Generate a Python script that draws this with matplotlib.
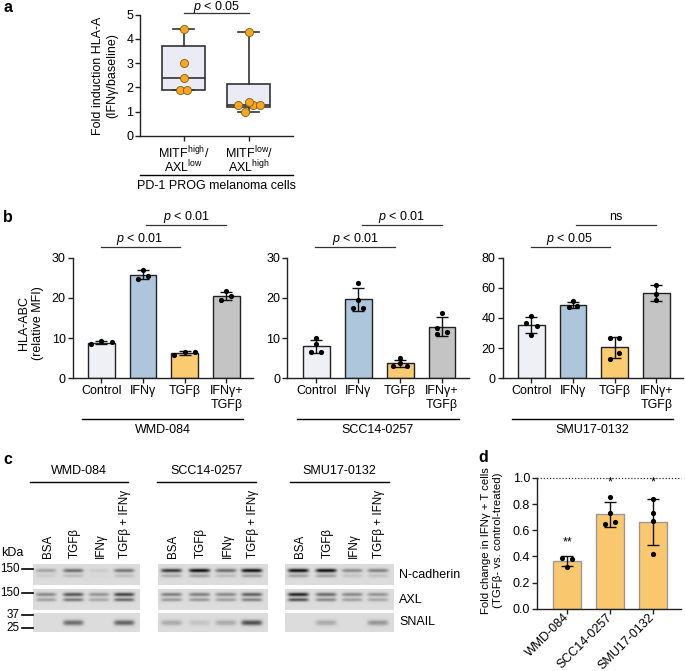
import numpy as np
import matplotlib.pyplot as plt

plt.rcParams['font.family'] = ['Liberation Sans', 'DejaVu Sans']
plt.rcParams['font.size'] = 9.0
plt.rcParams['mathtext.fontset'] = 'custom'
plt.rcParams['mathtext.rm'] = 'Liberation Sans'
plt.rcParams['mathtext.it'] = 'Liberation Sans:italic'
plt.rcParams['axes.linewidth'] = 1.0
plt.rcParams['axes.edgecolor'] = '#222222'

# panel a: fold induction of HLA-A after IFNg
a_labels = [r'MITF$^{\mathrm{high}}$/' + '\n' + r'AXL$^{\mathrm{low}}$',
            r'MITF$^{\mathrm{low}}$/' + '\n' + r'AXL$^{\mathrm{high}}$']
a_high = [1.9, 1.9, 2.4, 3.0, 4.4]
a_low = [1.0, 1.28, 1.28, 1.28, 1.4, 4.3]
a_jitter = [[-0.056, 0.056, 0, 0, 0], [-0.05, -0.17, 0.067, 0.174, 0, 0]]

# panel b: HLA-ABC relative MFI per cell line
b_conditions = ['Control', 'IFNγ', 'TGFβ', 'IFNγ+\nTGFβ']
b_lines = ['WMD-084', 'SCC14-0257', 'SMU17-0132']
wmd_hla = [[8.45, 9.2, 8.95], [24.8, 27.0, 25.5], [5.7, 6.6, 6.5], [19.5, 21.6, 20.5]]
scc_hla = [[6.65, 10.0, 8.5, 6.65], [17.6, 23.8, 19.6, 17.6], [3.0, 5.0, 3.9, 3.0],
           [16.2, 12.6, 11.5, 11.1]]
smu_hla = [[41.5, 36.5, 34.8, 29.0], [51.0, 47.3, 47.8], [26.5, 26.5, 16.5, 13.0],
           [61.9, 56.1, 51.7]]
wmd_jit = [[-0.26, 0, 0.26], [-0.13, 0, 0.13], [-0.26, 0, 0.26], [-0.125, 0, 0.125]]
scc_jit = [[-0.115, 0, 0, 0.115], [-0.12, 0, 0, 0.12], [-0.17, 0, 0, 0.17], [0, -0.115, 0.115, -0.115]]
smu_jit = [[0, -0.14, 0.14, 0], [0, -0.1, 0.1], [-0.11, 0.11, 0.11, -0.11], [0, 0, 0]]
b_ymax = [30, 30, 80]
b_yticks = [[0, 10, 20, 30], [0, 10, 20, 30], [0, 20, 40, 60, 80]]
b_pvals = [('$p$ < 0.01', '$p$ < 0.01'), ('$p$ < 0.01', '$p$ < 0.01'), ('$p$ < 0.05', 'ns')]
b_colors = ['#eff0f6', '#adc6dc', '#fbcb72', '#c4c4c4']

# panel c: western blot band intensities (0 = none, 1 = strongest), lanes BSA, TGFb, IFNg, TGFb+IFNg
c_lanes = ['BSA', 'TGFβ', 'IFNγ', 'TGFβ + IFNγ']
c_proteins = ['N-cadherin', 'AXL', 'SNAIL']
ncad_bands = [[0.28, 0.55, 0.08, 0.5], [0.8, 1.0, 0.55, 1.0], [1.0, 1.0, 0.4, 0.45]]
axl_bands = [[0.4, 0.65, 0.35, 0.75], [0.45, 0.45, 0.4, 0.6], [0.9, 0.55, 0.4, 0.35]]
snail_bands = [[0.0, 0.55, 0.0, 0.6], [0.25, 0.12, 0.25, 0.7], [0.0, 0.25, 0.0, 0.35]]
c_markers = ['150', '150', '37', '25']

# panel d: fold change in IFNg+ T cells
d_lines = ['WMD-084', 'SCC14-0257', 'SMU17-0132']
d_fold = [[0.39, 0.38, 0.32], [0.855, 0.73, 0.648, 0.66], [0.84, 0.73, 0.67, 0.42]]
d_jit = [[-0.115, 0.115, 0], [0, 0, -0.12, 0.12], [0, 0, 0, 0]]
d_stars = ['**', '*', '*']
d_star_y = [0.46, 0.92, 0.92]

W, H = 685, 671
fig = plt.figure(figsize=(W / 100, H / 100), dpi=100)


def px_axes(x0, y0, x1, y1):
    return fig.add_axes([x0 / W, 1 - y1 / H, (x1 - x0) / W, (y1 - y0) / H])


def style(ax):
    ax.spines[['top', 'right']].set_visible(False)
    ax.tick_params(length=3.5, width=1.0, pad=1.5, color='#222222')


# ---- a
ax = px_axes(140.3, 14.7, 292.7, 136)
style(ax)
stats = []
for vals in (a_high, a_low):
    v = np.array(vals)
    stats.append(dict(med=np.median(v), q1=np.percentile(v, 25, method='weibull'),
                      q3=np.percentile(v, 75, method='weibull'),
                      whislo=v.min(), whishi=v.max(), fliers=[]))
lp = dict(color='#333333', lw=1.2)
ax.bxp(stats, positions=[1, 2], widths=0.66, capwidths=0.33, patch_artist=True,
       showfliers=False, boxprops=dict(facecolor='#ebebf5', edgecolor='#333333', lw=1.2),
       medianprops=lp, whiskerprops=lp, capprops=lp)
for pos, vals, jit in zip([1, 2], [a_high, a_low], a_jitter):
    ax.scatter(pos + np.array(jit), vals, s=34, color='#f6a623', edgecolor='#80600f',
               lw=0.6, zorder=3, clip_on=False)
ax.set_xlim(0.332, 2.677)
ax.set_ylim(0, 5)
ax.set_yticks(range(6))
ax.set_xticks([1, 2], a_labels)
for t in ax.get_xticklabels():
    t.set_linespacing(0.8)
ax.tick_params(axis='x', pad=3)
ax.plot([1, 2], [5.06, 5.06], color='#333333', lw=0.9, clip_on=False)
ax.text(1.5, 5.19, '$p$ < 0.05', ha='center', va='baseline')
ax.plot([0, 1], [-0.32, -0.32], color='black', lw=1.0, transform=ax.transAxes, clip_on=False)
ax.text(0.5, -0.41, 'PD-1 PROG melanoma cells', ha='center', va='center', transform=ax.transAxes)
ax.text(-0.232, 0.5, 'Fold induction HLA-A\n(IFNγ/baseline)', rotation=90, ha='center',
        va='center', transform=ax.transAxes)

# ---- b
b_data = [wmd_hla, scc_hla, smu_hla]
b_jits = [wmd_jit, scc_jit, smu_jit]
b_boxes = [(72.7, 253.3), (287.3, 469.3), (502.7, 683.3)]
for i, (x0, x1) in enumerate(b_boxes):
    ax = px_axes(x0, 257.7, x1, 378.3)
    style(ax)
    data = b_data[i]
    x = np.arange(len(b_conditions))
    means = [np.mean(v) for v in data]
    sds = [np.std(v, ddof=1) for v in data]
    ax.bar(x, means, width=0.64, color=b_colors, edgecolor='#222222', lw=1.0, zorder=1)
    ax.errorbar(x, means, yerr=sds, fmt='none', ecolor='#111111', elinewidth=1.0,
                capsize=4, capthick=1.0, zorder=2)
    for xi, vals, jit in zip(x, data, b_jits[i]):
        ax.scatter(xi + np.array(jit), vals, s=14, color='black', lw=0, zorder=3)
    ax.set_xlim(-0.69, 3.65)
    ax.set_ylim(0, b_ymax[i])
    ax.set_yticks(b_yticks[i])
    ax.set_xticks(x, b_conditions)
    tr = ax.get_xaxis_transform()
    low, high = b_pvals[i]
    ax.plot([-0.02, 1.88], [1.091, 1.091], color='#333333', lw=0.9, transform=tr, clip_on=False)
    ax.text(0.93, 1.132, low, ha='center', va='baseline', transform=tr)
    ax.plot([1.08, 3.0], [1.271, 1.271], color='#333333', lw=0.9, transform=tr, clip_on=False)
    ax.text(2.04, 1.312, high, ha='center', va='baseline', transform=tr)
    ax.plot([-0.47, 3.41], [-0.334, -0.334], color='black', lw=1.0, transform=tr, clip_on=False)
    ax.text(1.47, -0.425, b_lines[i], ha='center', va='center', transform=tr)
    if i == 0:
        ax.text(-0.23, 0.46, 'HLA-ABC\n(relative MFI)', rotation=90, ha='center',
                va='center', transform=ax.transAxes)

# ---- c (drawn on a pixel-coordinate overlay)
ov = fig.add_axes([0, 0, 1, 1], zorder=-1)
ov.axis('off')

blot_x = [(33.3, 140), (158.3, 268.3), (285, 394)]
strip_y = [(564, 585), (589.3, 610), (612.7, 631.7)]
header_x = [(30, 128.3), (157.3, 256), (290, 389)]
lane_frac = np.array([0.12, 0.375, 0.615, 0.85])
# band rows: (centre, spread, relative strength) within a strip
band_rows = [[(0.3, 0.09, 1.0), (0.55, 0.08, 0.3)],
             [(0.25, 0.09, 1.0), (0.5, 0.08, 0.75)],
             [(0.5, 0.14, 1.0)]]
band_sets = [ncad_bands, axl_bands, snail_bands]


def strip_image(levels, rows, h=40, w=200, bg=0.86):
    yy, xx = np.mgrid[0:h, 0:w]
    img = np.full((h, w), bg)
    for lx, lev in zip(lane_frac * w, levels):
        xprof = np.exp(-((xx - lx) / (0.095 * w)) ** 6)
        for ry, rs, rel in rows:
            yprof = np.exp(-((yy - ry * h) / (rs * h)) ** 2)
            img -= 0.8 * lev * rel * xprof * yprof
    return img


for b, (bx0, bx1) in enumerate(blot_x):
    for p, (sy0, sy1) in enumerate(strip_y):
        img = strip_image(band_sets[p][b], band_rows[p])
        ov.imshow(img, cmap='gray', vmin=0, vmax=1, aspect='auto', interpolation='bilinear',
                  extent=(bx0, bx1, sy1, sy0))
    for fx, lab in zip(lane_frac, c_lanes):
        ov.text(bx0 + fx * (bx1 - bx0) + 1.5, 558, lab, rotation=90, ha='center', va='bottom',
                fontsize=8.4)
    hx0, hx1 = header_x[b]
    ov.plot([hx0, hx1], [481.7, 481.7], color='black', lw=1.0)
    ov.text((hx0 + hx1) / 2, 471.5, b_lines[b], ha='center', va='center')

ov.text(1, 553, 'kDa', ha='left', va='center')
for lab, my in zip(c_markers, [569.3, 592.7, 615, 628.3]):
    ov.text(19.5, my, lab, ha='right', va='center', fontsize=8.4)
    ov.plot([21.7, 32.7], [my, my], color='black', lw=1.2)
for lab, (sy0, sy1) in zip(c_proteins, strip_y):
    ov.text(399, (sy0 + sy1) / 2, lab, ha='left', va='center')
ov.set_xlim(0, W)
ov.set_ylim(H, 0)

# ---- d
ax = px_axes(537, 478, 681, 608.7)
style(ax)
x = np.arange(len(d_lines))
means = [np.mean(v) for v in d_fold]
sds = [np.std(v, ddof=1) for v in d_fold]
ax.bar(x, means, width=0.65, color='#f9c76d', edgecolor='#9a9a9a', lw=1.0, zorder=1)
ax.errorbar(x, means, yerr=sds, fmt='none', ecolor='#111111', elinewidth=1.0,
            capsize=4, capthick=1.0, zorder=2)
for xi, vals, jit in zip(x, d_fold, d_jit):
    ax.scatter(xi + np.array(jit), vals, s=14, color='black', lw=0, zorder=3)
for xi, st, sy in zip(x, d_stars, d_star_y):
    ax.text(xi, sy, st, ha='center', va='bottom')
ax.axhline(1.0, color='#333333', lw=0.9, ls=(0, (1, 1.5)), clip_on=False)
ax.set_xlim(-0.71, 2.66)
ax.set_ylim(0, 1.0)
ax.set_yticks(np.arange(0, 1.01, 0.2))
ax.set_yticklabels([f'{t:.1f}' for t in np.arange(0, 1.01, 0.2)])
ax.set_xticks(x, d_lines, rotation=45, ha='right', va='center', rotation_mode='anchor')
ax.text(-0.3125, 0.52, 'Fold change in IFNγ + T cells\n(TGFβ- vs. control-treated)',
        rotation=90, ha='center', va='center', transform=ax.transAxes, fontsize=8.2)

# panel letters
for lab, (lx, ly) in zip('abcd', [(3, 8), (3, 217), (3, 460), (478, 457)]):
    fig.text(lx / W, 1 - ly / H, lab, fontsize=11.5, fontweight='bold', ha='left', va='center')

fig.savefig('out.png', dpi=100)
